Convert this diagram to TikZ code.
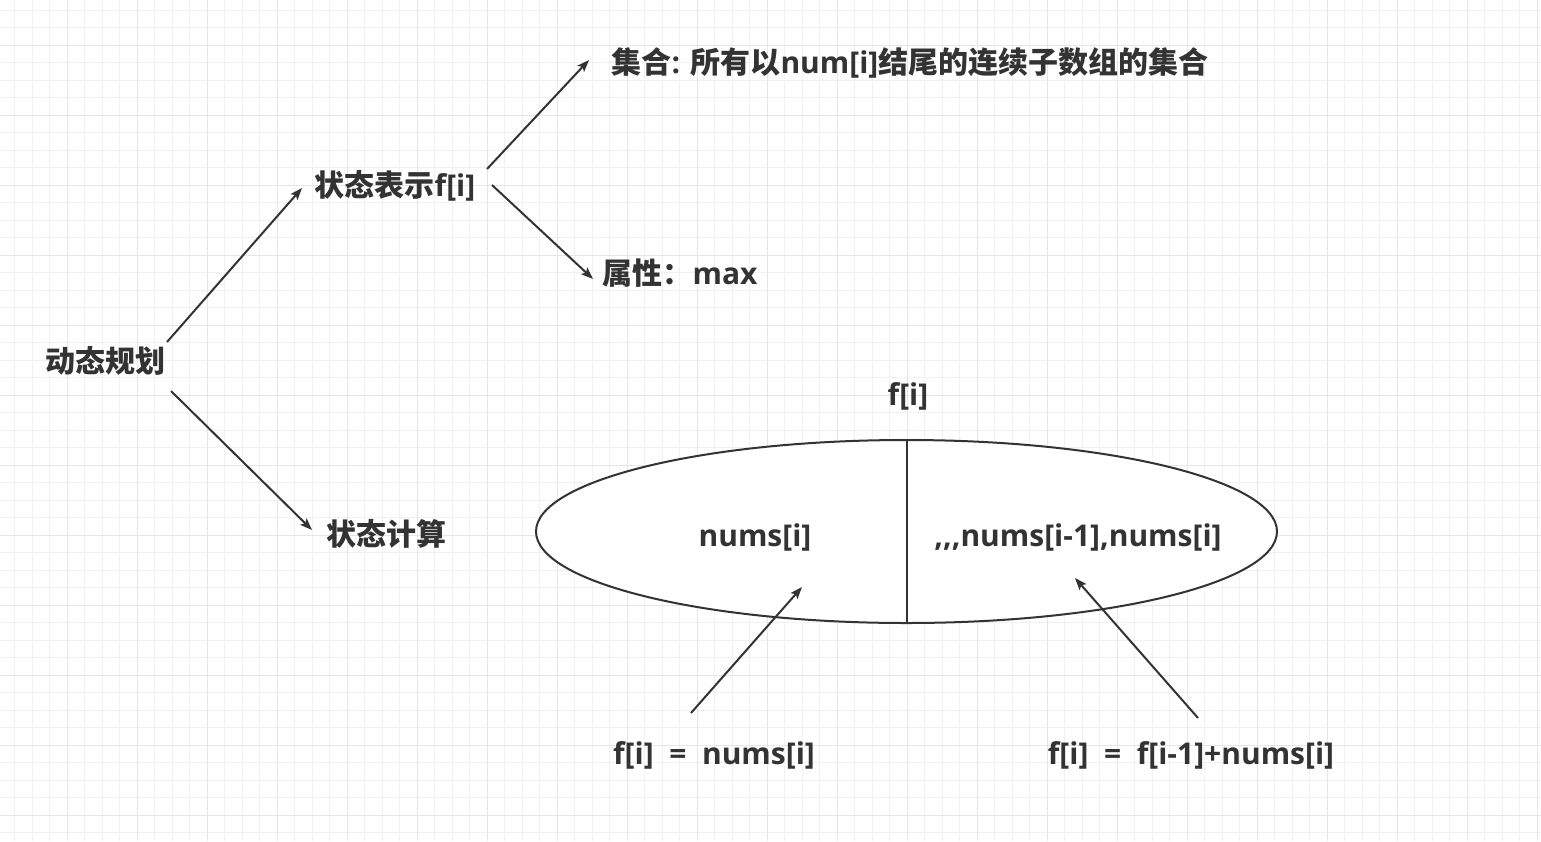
\documentclass[tikz,border=0pt]{standalone}
\usepackage{fontspec}
\setmainfont{Noto Sans CJK SC}
\newfontfamily\latinfont{Open Sans}
\newcommand{\lat}[1]{{\latinfont #1}}
\usepackage{xcolor}
\definecolor{text_gray}{HTML}{333333}
\definecolor{grid_minor}{HTML}{F1F1F1}
\definecolor{grid_major}{HTML}{E6E6E6}
\usetikzlibrary{arrows.meta,shapes.geometric}

\begin{document}
\begin{tikzpicture}
[	x=1pt, y=-1pt,
	txt/.style = {text=text_gray, font=\fontsize{30}{36}\selectfont\bfseries, inner sep=0},
	arr/.style = {draw=text_gray, line width=2pt, -{Stealth[length=12pt,width=9pt,inset=2.5pt]}}
]
\useasboundingbox (0,0) rectangle (1541,841);

% background grid
\foreach \i in {0,...,87} {\draw[grid_minor, line width=1pt] ({14.5+17.5*\i},0) -- ++(0,841);}
\foreach \i in {0,...,47} {\draw[grid_minor, line width=1pt] (0,{10+17.5*\i}) -- ++(1541,0);}
\foreach \i in {0,...,21} {\draw[grid_major, line width=1pt] ({67+70*\i},0) -- ++(0,841);}
\foreach \i in {0,...,11} {\draw[grid_major, line width=1pt] (0,{45+70*\i}) -- ++(1541,0);}

\node[txt] (dp) at (105,361) {动态规划};
\node[txt] (rep) at (395,186) {状态表示\lat{f[i]}};
\node[txt] (setdef) at (910,63) {集合\lat{: }所有以\lat{num[i]}结尾的连续子数组的集合};
\node[txt] (attr) at (680,273) {属性：\lat{max}};
\node[txt] (calc) at (386,534) {状态计算};

\node[ellipse, draw=text_gray, line width=2pt, fill=white, minimum width=741, minimum height=183, inner sep=0] (set) at (906.5,531.5) {};
\draw[text_gray, line width=2pt] (set.north) -- (set.south);

\node[txt] (ftop) at (908,396) {\lat{f[i]}};
\node[txt] (left) at (755,537) {\lat{nums[i]}};
\node[txt] (right) at (1078,537) {\lat{,,,nums[i-1],nums[i]}};
\node[txt] (eqa) at (714,755) {\lat{f[i] \ = \ nums[i]}};
\node[txt] (eqb) at (1191,755) {\lat{f[i] \ = \ f[i-1]+nums[i]}};

\draw[arr] ([shift={(62,-19)}]dp.center) -- ([shift={(-93,2)}]rep.center);
\draw[arr] ([shift={(66,30)}]dp.center) -- ([shift={(-74,-4)}]calc.center);
\draw[arr] ([shift={(92,-17)}]rep.center) -- ([shift={(-321,-3)}]setdef.center);
\draw[arr] ([shift={(97,-1)}]rep.center) -- ([shift={(-87,6)}]attr.center);
\draw[arr] ([shift={(-23,-42)}]eqa.center) -- ([shift={(47,50)}]left.center);
\draw[arr] ([shift={(7,-37)}]eqb.center) -- ([shift={(-3,41)}]right.center);

\end{tikzpicture}
\end{document}
